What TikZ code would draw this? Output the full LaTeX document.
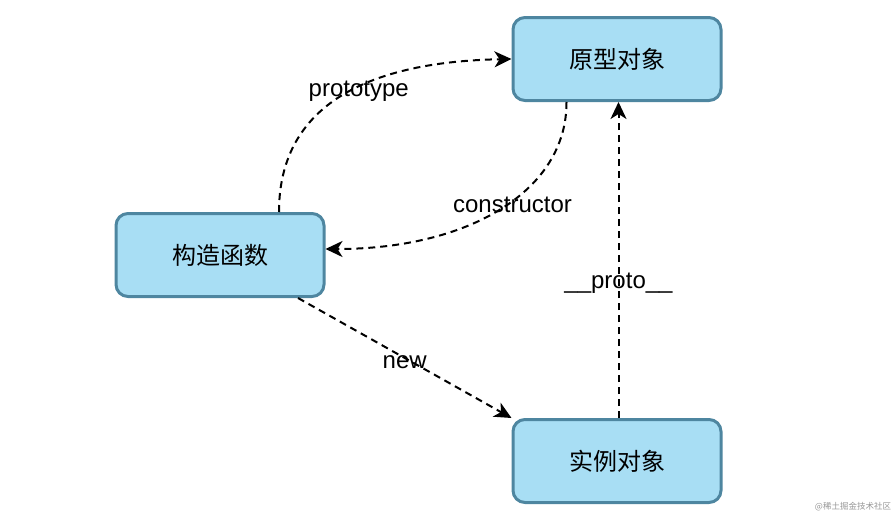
\documentclass[tikz,border=0pt]{standalone}
\usepackage{fontspec}
\setmainfont{Liberation Sans}
\newfontfamily\cjk{Noto Sans CJK SC}
\usetikzlibrary{arrows.meta, positioning, calc}
\definecolor{boxfill}{RGB}{168,222,244}
\definecolor{boxdraw}{RGB}{78,134,160}
\definecolor{wmgray}{RGB}{150,150,150}

\begin{document}
\begin{tikzpicture}[
    x=1pt, y=1pt,
    box/.style={rectangle, draw=boxdraw, fill=boxfill, line width=3pt, rounded corners=12pt, minimum width=208pt, minimum height=83pt, inner sep=0pt, font=\cjk\fontsize{24}{28}\selectfont},
    flow/.style={-{Stealth[length=17pt, width=16pt, inset=5pt]}, line width=2pt, dash pattern=on 7pt off 5pt},
    edgelabel/.style={font=\fontsize{24}{28}\selectfont, inner sep=0pt, yshift=-4pt}
]
\useasboundingbox (0,0) rectangle (894,-522);

% Boxes
\node[box] (ctor) at (220,-255) {构造函数};
\node[box, above right=110pt and 186pt of ctor] (proto) {原型对象};
\node[box, below=316pt of proto] (inst) {实例对象};

% Arrows
\draw[flow] ($(ctor.north)+(59,0)$) .. controls (279,-110) and (360,-62) .. (proto.west)
    node[edgelabel, pos=0.58] {prototype};
\draw[flow] ($(proto.south)+(-50.5,0)$) .. controls (567,-190) and (470,-249) .. ($(ctor.east)+(0,6)$)
    node[edgelabel, pos=0.45] {constructor};
\draw[flow] ($(ctor.south)+(78,0)$) -- (inst.north west)
    node[edgelabel, midway] {new};
\draw[flow] ($(inst.north)+(1.5,0)$) -- ($(proto.south)+(1.5,0)$)
    node[edgelabel, pos=0.44] {\_\_proto\_\_};

% Watermark
\node[font=\cjk\fontsize{8.5}{10}\selectfont, text=wmgray, inner sep=0pt] (wm) at (853,-507) {@稀土掘金技术社区};
\end{tikzpicture}
\end{document}
